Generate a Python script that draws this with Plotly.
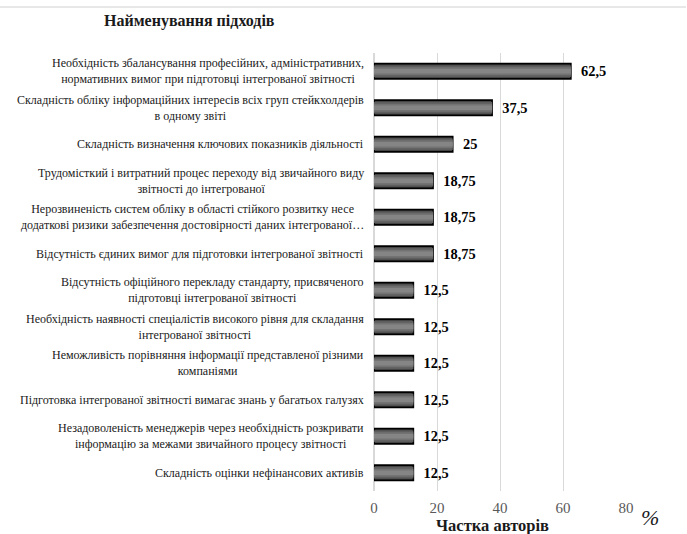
import plotly.graph_objects as go

categories = [
    "Необхідність збалансування професійних, адміністративних,<br>нормативних вимог при підготовці інтегрованої звітності",
    "Складність обліку інформаційних інтересів всіх груп стейкхолдерів<br>в одному звіті",
    "Складність визначення ключових показників діяльності",
    "Трудомісткий і витратний процес переходу від звичайного виду<br>звітності до інтегрованої",
    "Нерозвиненість систем обліку в області стійкого розвитку несе<br>додаткові ризики забезпечення достовірності даних інтегрованої…",
    "Відсутність єдиних вимог для підготовки інтегрованої звітності",
    "Відсутність офіційного перекладу стандарту, присвяченого<br>підготовці інтегрованої звітності",
    "Необхідність наявності спеціалістів високого рівня для складання<br>інтегрованої звітності",
    "Неможливість порівняння інформації представленої різними<br>компаніями",
    "Підготовка інтегрованої звітності вимагає знань у багатьох галузях",
    "Незадоволеність менеджерів через необхідність розкривати<br>інформацію за межами звичайного процесу звітності",
    "Складність оцінки нефінансових активів",
]
values = [62.5, 37.5, 25, 18.75, 18.75, 18.75, 12.5, 12.5, 12.5, 12.5, 12.5, 12.5]
tick_values = [0, 20, 40, 60, 80]
value_labels = [f"{v:g}".replace(".", ",") for v in values]

SERIF = "Liberation Serif"

fig = go.Figure()
# layered bars to imitate the cylindrical gradient fill
layers = [(0.42, "#454545", 1.6), (0.32, "#5e5e5e", 0), (0.22, "#737373", 0), (0.12, "#858585", 0)]
for i, (w, col, lw) in enumerate(layers):
    fig.add_trace(go.Bar(
        y=categories, x=values, orientation="h", width=w,
        marker=dict(color=col, line=dict(color="#000000", width=lw)),
        text=value_labels if i == 0 else None,
        texttemplate="  <b>%{text}</b>" if i == 0 else None,
        textposition="outside" if i == 0 else "none",
        textfont=dict(family=SERIF, size=16, color="#000000"),
        cliponaxis=False, showlegend=False, hoverinfo="skip",
    ))

for c in categories:
    fig.add_annotation(x=0, xref="paper", y=c, yref="y", text=c, showarrow=False,
                       xanchor="right", yanchor="middle", xshift=-8, align="center",
                       font=dict(family=SERIF, size=12, color="#1a1a1a"))

L, R, T, B = 374, 61, 53, 43
W, H = 687, 534
pw, ph = W - L - R, H - T - B

def px_x(p):
    return (p - L) / pw

def px_y(p):
    return (H - B - p) / ph

fig.add_shape(type="line", xref="paper", yref="paper", x0=px_x(0), x1=px_x(686),
              y0=px_y(7), y1=px_y(7), line=dict(color="#d0d0d0", width=1))

def label(x, y, text, size):
    fig.add_annotation(xref="paper", yref="paper", x=px_x(x), y=px_y(y), text=text,
                       xanchor="center", yanchor="middle", showarrow=False,
                       font=dict(family=SERIF, size=size, color="#1a1a1a"))

label(189, 21, "<b>Найменування підходів</b>", 16)
label(492, 525, "<b>Частка авторів</b>", 16.5)
label(650, 517, "<i>%</i>", 22)

fig.update_layout(
    width=W, height=H, margin=dict(l=L, r=R, t=T, b=B),
    paper_bgcolor="white", plot_bgcolor="white",
    barmode="overlay", bargap=0.5,
    xaxis=dict(range=[0, 80], tickvals=tick_values, showgrid=True, gridcolor="#d9d9d9", gridwidth=1,
               zeroline=True, zerolinecolor="#d9d9d9", showline=False, ticklabelstandoff=6,
               tickfont=dict(family=SERIF, size=15, color="#595959"), fixedrange=True),
    yaxis=dict(autorange="reversed", showticklabels=False, showgrid=False, zeroline=False,
               showline=False, ticks="", fixedrange=True),
)

fig.write_html("out.html", config={"displayModeBar": False},
               post_script="document.body.style.margin='0';document.body.style.padding='0';")
